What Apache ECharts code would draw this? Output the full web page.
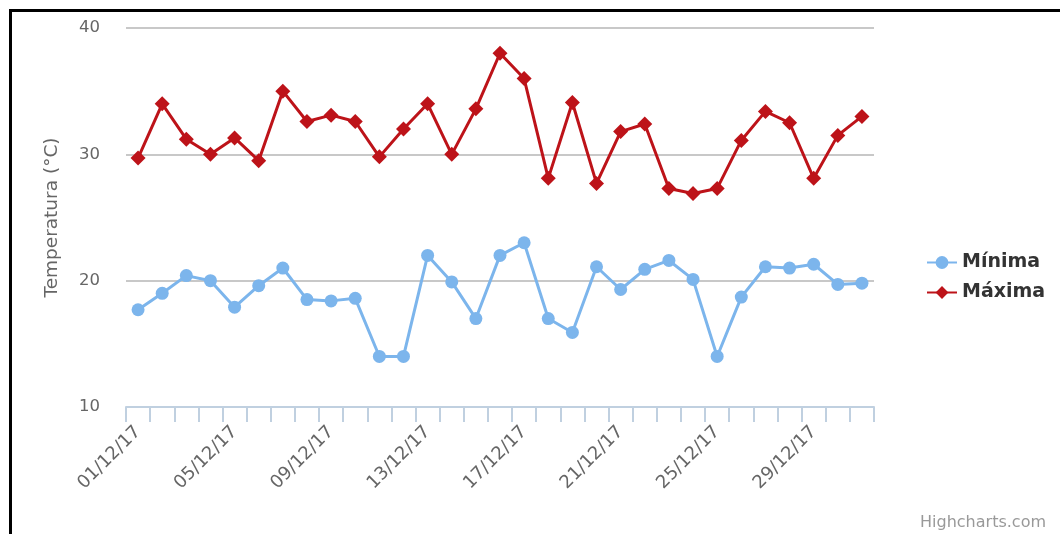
<!DOCTYPE html>
<html>
<head>
<meta charset="utf-8">
<script src="https://cdn.jsdelivr.net/npm/echarts@6/dist/echarts.min.js"></script>
<style>
html,body{margin:0;padding:0;background:#fff;}
#chart{width:1060px;height:534px;}
</style>
</head>
<body>
<div id="chart"></div>
<script>
const categories = ['01/12/17','02/12/17','03/12/17','04/12/17','05/12/17','06/12/17','07/12/17','08/12/17','09/12/17','10/12/17','11/12/17','12/12/17','13/12/17','14/12/17','15/12/17','16/12/17','17/12/17','18/12/17','19/12/17','20/12/17','21/12/17','22/12/17','23/12/17','24/12/17','25/12/17','26/12/17','27/12/17','28/12/17','29/12/17','30/12/17','31/12/17'];
const minima = [17.7, 19.0, 20.4, 20.0, 17.9, 19.6, 21.0, 18.5, 18.4, 18.6, 14.0, 14.0, 22.0, 19.9, 17.0, 22.0, 23.0, 17.0, 15.9, 21.1, 19.3, 20.9, 21.6, 20.1, 14.0, 18.7, 21.1, 21.0, 21.3, 19.7, 19.8];
const maxima = [29.7, 34.0, 31.2, 30.0, 31.3, 29.5, 35.0, 32.6, 33.1, 32.6, 29.8, 32.0, 34.0, 30.0, 33.6, 38.0, 36.0, 28.1, 34.1, 27.7, 31.8, 32.4, 27.3, 26.9, 27.3, 31.1, 33.4, 32.5, 28.1, 31.5, 33.0];
const seriesNames = ['Mínima', 'Máxima'];
const yTicks = [10, 20, 30, 40];

const chart = echarts.init(document.getElementById('chart'), null, {renderer: 'canvas'});
const FONT = '"DejaVu Sans", "Open Sans", sans-serif';
chart.setOption({
  animation: false,
  backgroundColor: '#fff',
  textStyle: {fontFamily: FONT},
  grid: {left: 126, right: 186, top: 28, bottom: 127, containLabel: false},
  legend: {
    orient: 'vertical',
    left: 921,
    top: 248,
    itemWidth: 30,
    itemHeight: 16,
    itemGap: 11,
    textStyle: {fontSize: 19, fontWeight: 'bold', color: '#333', fontFamily: FONT},
    data: seriesNames
  },
  xAxis: {
    type: 'category',
    data: categories,
    boundaryGap: true,
    axisLine: {lineStyle: {color: '#C0D0E0', width: 2}},
    axisTick: {show: true, interval: 0, length: 15, lineStyle: {color: '#C0D0E0', width: 2}},
    axisLabel: {interval: 3, rotate: 45, margin: 22, fontSize: 18, color: '#666', fontFamily: FONT},
    splitLine: {show: false}
  },
  yAxis: {
    type: 'value',
    min: yTicks[0],
    max: yTicks[yTicks.length - 1],
    interval: 10,
    name: 'Temperatura (°C)',
    nameLocation: 'middle',
    nameGap: 64,
    nameTextStyle: {fontSize: 18.5, color: '#666', fontFamily: FONT},
    axisLine: {show: false},
    axisTick: {show: false},
    axisLabel: {fontSize: 16.5, color: '#666', margin: 26, fontFamily: FONT},
    splitLine: {lineStyle: {color: '#C8C8C8', width: 2}}
  },
  series: [
    {
      name: seriesNames[0],
      type: 'line',
      data: minima,
      symbol: 'circle',
      symbolSize: 13,
      color: '#7CB5EC',
      lineStyle: {width: 3, color: '#7CB5EC'},
      itemStyle: {color: '#7CB5EC'},
      z: 3
    },
    {
      name: seriesNames[1],
      type: 'line',
      data: maxima,
      symbol: 'diamond',
      symbolSize: 15,
      color: '#BD1319',
      lineStyle: {width: 3, color: '#BD1319'},
      itemStyle: {color: '#BD1319'},
      z: 3
    }
  ],
  graphic: [
    {type: 'rect', left: 9, top: 9, shape: {width: 1051, height: 3}, style: {fill: '#000'}},
    {type: 'rect', left: 9, top: 9, shape: {width: 3, height: 525}, style: {fill: '#000'}},
    {type: 'text', right: 14, bottom: 3, style: {text: 'Highcharts.com', fontSize: 16, fill: '#999', fontFamily: FONT}}
  ]
});
</script>
</body>
</html>
